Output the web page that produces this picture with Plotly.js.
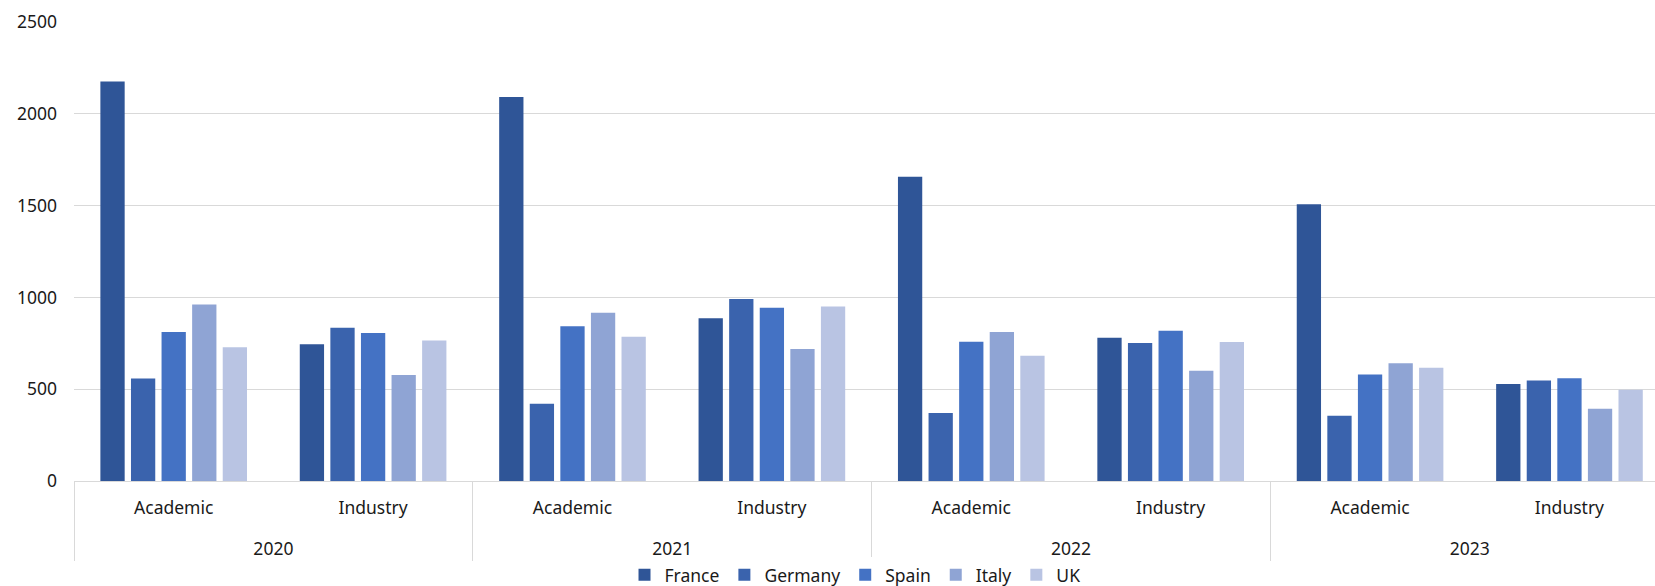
<!DOCTYPE html>
<html>
<head>
<meta charset="utf-8">
<script src="https://cdn.plot.ly/plotly-3.0.1.min.js"></script>
<style>html,body{margin:0;padding:0;background:#fff;}#chart{width:1655px;height:586px;}</style>
</head>
<body>
<div id="chart"></div>
<script>
const years = ["2020","2020","2021","2021","2022","2022","2023","2023"];
const sectors = ["Academic","Industry","Academic","Industry","Academic","Industry","Academic","Industry"];
const yearGroups = ["2020","2021","2022","2023"];
const seriesNames = ["France","Germany","Spain","Italy","UK"];
const france  = [2176, 745, 2091, 886, 1657, 780, 1508, 529];
const germany = [558, 835, 421, 991, 370, 751, 356, 548];
const spain   = [812, 806, 843, 943, 759, 818, 580, 560];
const italy   = [962, 578, 916, 719, 812, 601, 641, 393];
const uk      = [728, 765, 786, 951, 682, 757, 617, 497];
const yTicks  = [0, 500, 1000, 1500, 2000, 2500];

const seriesValues = [france, germany, spain, italy, uk];
const colors = ["#2F5597", "#3A63AD", "#4472C4", "#8FA4D4", "#B9C4E3"];
const FONT = "Noto Sans, Open Sans, sans-serif";
const TXT = "#1a1a1a";

// unique category ids (year + sector), labelled with sector names
const catIds = years.map((y, i) => y + " " + sectors[i]);

const traces = seriesNames.map((name, i) => ({
  type: "bar",
  name: name,
  x: catIds,
  y: seriesValues[i],
  xaxis: "x",
  yaxis: "y",
  marker: {color: colors[i]},
  hoverinfo: "x+y+name"
}));

// invisible helper trace so the year axis exists
traces.push({
  type: "scatter",
  mode: "markers",
  x: yearGroups,
  y: yearGroups.map(() => null),
  xaxis: "x2",
  yaxis: "y",
  showlegend: false,
  hoverinfo: "skip",
  marker: {opacity: 0}
});

const nCat = catIds.length;
const visibleFrac = 7.929 / nCat; // chart is cut at the right edge

const layout = {
  width: 1655,
  height: 586,
  margin: {l: 74, r: 0, t: 22, b: 105, pad: 0},
  paper_bgcolor: "#ffffff",
  plot_bgcolor: "#ffffff",
  font: {family: FONT, size: 17.5, color: TXT},
  barmode: "group",
  bargap: 0.233,
  bargroupgap: 0.206,
  showlegend: true,
  legend: {
    orientation: "h",
    x: 0.494, xanchor: "center",
    yref: "container", y: 0.019, yanchor: "middle",
    font: {family: FONT, size: 17.5, color: TXT},
    itemwidth: 30,
    traceorder: "normal"
  },
  xaxis: {
    type: "category",
    categoryorder: "array",
    categoryarray: catIds,
    tickvals: catIds,
    ticktext: sectors,
    range: [-0.5, -0.5 + nCat * visibleFrac],
    anchor: "y",
    showgrid: false,
    showline: true,
    linecolor: "#D9D9D9",
    linewidth: 1,
    ticks: "",
    ticklabelstandoff: 11,
    tickfont: {family: FONT, size: 17.5, color: TXT}
  },
  xaxis2: {
    type: "category",
    categoryorder: "array",
    categoryarray: yearGroups,
    range: [-0.5, -0.5 + yearGroups.length * visibleFrac],
    overlaying: "x",
    anchor: "y",
    side: "bottom",
    showgrid: false,
    showline: false,
    zeroline: false,
    ticks: "outside",
    tickson: "boundaries",
    ticklen: 79,
    tickwidth: 1,
    tickcolor: "#D9D9D9",
    ticklabelstandoff: 55,
    tickfont: {family: FONT, size: 17.5, color: TXT}
  },
  yaxis: {
    range: [0, 2500],
    tickvals: yTicks,
    ticktext: yTicks.map(String),
    showgrid: true,
    gridcolor: "#D9D9D9",
    gridwidth: 1,
    zeroline: false,
    showline: false,
    ticks: "",
    ticklabelstandoff: 16,
    tickfont: {family: FONT, size: 17.5, color: TXT}
  }
};

Plotly.newPlot("chart", traces, layout, {displayModeBar: false, staticPlot: true});
</script>
</body>
</html>
